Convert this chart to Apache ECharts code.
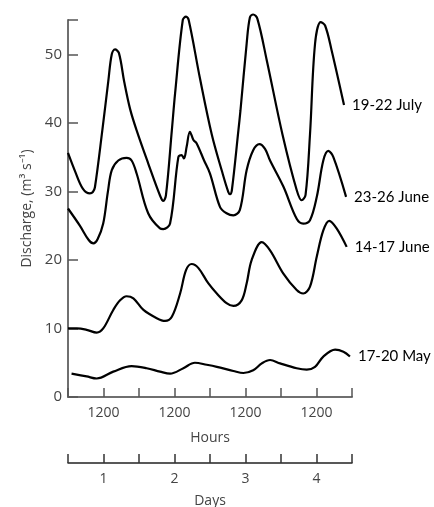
<!DOCTYPE html>
<html>
<head>
<meta charset="utf-8">
<script src="https://cdn.jsdelivr.net/npm/echarts@6/dist/echarts.min.js"></script>
<style>
  html, body { margin: 0; padding: 0; background: #fff; }
  #chart { width: 434px; height: 507px; }
</style>
</head>
<body>
<div id="chart"></div>
<script>
// Diurnal discharge records, hours counted from midnight of day 1
var julyHours = [0, 2.5, 5, 7.4, 8.4, 9.1, 11.6, 13.6, 14.8, 15.9, 17.2, 19, 21, 23.2, 27.1, 31.1, 32.2, 33.1, 35.1, 36.2, 38.8, 39.9, 40.8, 44.6, 48.6, 52, 54.2, 54.8, 55.4, 57.6, 58.3, 60.4, 61.5, 62.6, 64, 67.2, 72.5, 77.3, 79, 80.3, 81.8, 83.5, 85.4, 86.9, 89.1, 93.3];
var julyFlow  = [35.6, 32.8, 30.4, 29.7, 29.9, 30.6, 38.9, 46.0, 50.0, 50.7, 50.2, 46, 42, 38.9, 34.1, 29.4, 28.6, 29.4, 38.9, 44.3, 55.0, 55.5, 55.0, 46.5, 38.3, 33.0, 29.9, 29.6, 30.2, 38.9, 41.8, 51.6, 55.4, 55.8, 55.2, 49.1, 38.3, 30.2, 28.7, 29.5, 38.3, 51.5, 54.7, 54.2, 50.6, 42.6];

var lateJuneHours = [0, 4, 7, 8.6, 10, 11.9, 13.5, 14.8, 17, 19.8, 21.5, 23.2, 27.1, 31.1, 32.2, 34.5, 37.3, 38.4, 39.2, 40.1, 41.2, 42.4, 43.5, 46, 48, 51.4, 53.6, 55.9, 58.1, 60.4, 62.6, 64.7, 66.6, 68.3, 72.8, 77.3, 79.5, 81.8, 84.1, 86.3, 88, 89.7, 94];
var lateJuneFlow  = [27.5, 25.0, 22.9, 22.4, 23.0, 25.3, 30.0, 33.1, 34.5, 34.9, 34.5, 32.6, 26.8, 24.6, 24.5, 25.3, 35.0, 35.3, 34.8, 36.5, 38.7, 37.5, 37.0, 34.5, 32.6, 27.7, 26.8, 26.5, 27.3, 33.1, 36.0, 36.9, 36.2, 34.5, 30.7, 26.0, 25.3, 25.8, 29.2, 34.5, 35.9, 35.0, 29.2];

var midJuneHours = [0, 3, 6.3, 9.7, 11.9, 15.3, 17.6, 19.8, 22.1, 25.5, 30, 32.8, 35.1, 37.9, 39.9, 41.8, 44.1, 47.4, 50.3, 53.6, 55.9, 58.7, 60.4, 62.1, 65.5, 68.3, 72.8, 77.3, 79.5, 81.8, 84.1, 86.3, 88.3, 90.8, 94.2];
var midJuneFlow  = [10.0, 10.0, 9.8, 9.4, 10.0, 12.7, 14.1, 14.7, 14.4, 12.7, 11.5, 11.1, 11.7, 15.1, 18.5, 19.4, 18.8, 16.6, 15.1, 13.7, 13.3, 14.1, 16.6, 20.0, 22.6, 21.4, 18.0, 15.6, 15.1, 16.1, 20.5, 24.3, 25.7, 24.6, 21.9];

var mayHours = [1.2, 6.3, 9.7, 15.3, 21.5, 26.6, 31.1, 34.5, 39, 42.9, 46.9, 50.3, 55.9, 59.3, 62.6, 65.5, 68.3, 71.7, 77.3, 80.7, 83.5, 86.3, 90.3, 93.1, 95.3];
var mayFlow  = [3.4, 3.0, 2.7, 3.7, 4.5, 4.2, 3.7, 3.4, 4.2, 5.0, 4.7, 4.4, 3.8, 3.5, 3.9, 4.9, 5.4, 4.9, 4.2, 4.0, 4.4, 5.9, 6.9, 6.6, 5.9];

var seriesNames = ['19-22 July', '23-26 June', '14-17 June', '17-20 May'];
var yTicks = [0, 10, 20, 30, 40, 50];
var hourTickLabel = '1200';
var dayLabels = ['1', '2', '3', '4'];

function pairs(xs, ys) {
  return xs.map(function (x, i) { return [x, ys[i]]; });
}

var records = [
  pairs(julyHours, julyFlow),
  pairs(lateJuneHours, lateJuneFlow),
  pairs(midJuneHours, midJuneFlow),
  pairs(mayHours, mayFlow)
];

var textColor = '#444';
var sansFont = 'Open Sans';

var chart = echarts.init(document.getElementById('chart'), null, { renderer: 'canvas' });

chart.setOption({
  animation: false,
  backgroundColor: '#fff',
  grid: { left: 68, right: 82, top: 20, bottom: 110, containLabel: false, outerBoundsMode: 'none' },
  xAxis: [
    {
      type: 'value', min: 0, max: 96, interval: 12, position: 'bottom',
      name: 'Hours', nameLocation: 'middle', nameGap: 34,
      nameTextStyle: { color: textColor, fontSize: 14, fontFamily: sansFont },
      axisLine: { show: true, lineStyle: { color: '#6f6f6f', width: 2 } },
      axisTick: { show: true, inside: true, length: 9, lineStyle: { color: '#555', width: 1.5 } },
      axisLabel: {
        margin: 9, color: textColor, fontSize: 14, fontFamily: sansFont,
        formatter: function (v) { return v % 24 === 12 ? hourTickLabel : ''; }
      },
      splitLine: { show: false }
    },
    {
      type: 'value', min: 0, max: 96, interval: 12, position: 'bottom', offset: 66,
      name: 'Days', nameLocation: 'middle', nameGap: 31,
      nameTextStyle: { color: textColor, fontSize: 14, fontFamily: sansFont },
      axisLine: { show: true, lineStyle: { color: '#222', width: 1.5 } },
      axisTick: { show: true, inside: true, length: 9, lineStyle: { color: '#333', width: 1.5 } },
      axisLabel: {
        margin: 9, color: textColor, fontSize: 14, fontFamily: sansFont,
        formatter: function (v) { return v % 24 === 12 ? dayLabels[(v - 12) / 24] : ''; }
      },
      splitLine: { show: false }
    }
  ],
  yAxis: {
    type: 'value', min: 0, max: 55, interval: 10,
    name: 'Discharge, (m\u00b3 s\u207b\u00b9)', nameLocation: 'middle', nameGap: 34,
    nameTextStyle: { color: textColor, fontSize: 14, fontFamily: sansFont },
    axisLine: { show: true, lineStyle: { color: '#6f6f6f', width: 2 } },
    axisTick: { show: true, inside: true, length: 10, lineStyle: { color: '#555', width: 1.5 } },
    axisLabel: {
      margin: 6, color: textColor, fontSize: 15, fontFamily: sansFont,
      formatter: function (v) { return yTicks.indexOf(v) >= 0 ? String(v) : ''; }
    },
    splitLine: { show: false }
  },
  series: records.map(function (data, i) {
    return {
      name: seriesNames[i],
      type: 'line',
      xAxisIndex: 0,
      data: data,
      smooth: 0.35,
      clip: false,
      showSymbol: false,
      lineStyle: { color: '#000', width: 2.2 },
      endLabel: {
        show: true, distance: 8, color: '#000', fontSize: 15,
        fontFamily: 'Lato',
        formatter: function (p) { return p.seriesName; }
      }
    };
  })
});
</script>
</body>
</html>
